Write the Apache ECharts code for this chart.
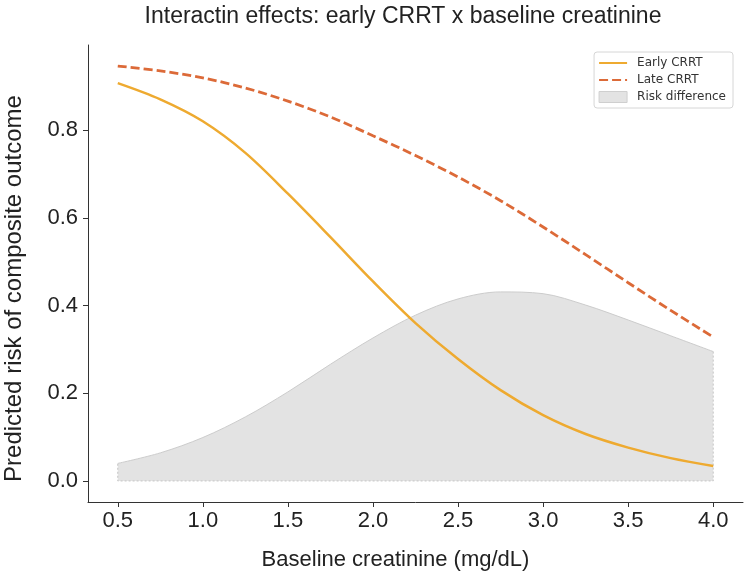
<!DOCTYPE html>
<html>
<head>
<meta charset="utf-8">
<script src="https://cdn.jsdelivr.net/npm/echarts@6/dist/echarts.min.js"></script>
<style>
  html, body { margin: 0; padding: 0; background: #fff; }
  #chart { width: 745px; height: 577px; }
</style>
</head>
<body>
<div id="chart"></div>
<script>
  // values
  const creatinine = [0.5, 0.75, 1.0, 1.25, 1.5, 1.75, 2.0, 2.25, 2.5, 2.75, 3.0, 3.25, 3.5, 3.75, 4.0];
  const earlyRisk = [0.907, 0.870, 0.820, 0.748, 0.655, 0.556, 0.455, 0.360, 0.278, 0.207, 0.150, 0.107, 0.076, 0.052, 0.034];
  const lateRisk = [0.946, 0.935, 0.919, 0.896, 0.866, 0.830, 0.787, 0.742, 0.693, 0.639, 0.579, 0.516, 0.452, 0.389, 0.328];
  const riskDiff = [0.040, 0.064, 0.099, 0.146, 0.203, 0.266, 0.326, 0.378, 0.415, 0.431, 0.427, 0.401, 0.367, 0.331, 0.295];
  const xTicks = [0.5, 1.0, 1.5, 2.0, 2.5, 3.0, 3.5, 4.0];
  const yTicks = [0.0, 0.2, 0.4, 0.6, 0.8];

  const pairs = (xs, ys) => xs.map((x, i) => [x, ys[i]]);
  const last = creatinine.length - 1;
  // dashed edges of the shaded band (sides and floor)
  const diffEdge = [
    [creatinine[last], riskDiff[last]],
    [creatinine[last], 0],
    [creatinine[0], 0],
    [creatinine[0], riskDiff[0]]
  ];

  const font = "'Liberation Sans Narrow', 'Liberation Sans', Arial, sans-serif";
  const curve = 0.33; // catmull-rom like smoothing
  const chart = echarts.init(document.getElementById('chart'));

  chart.setOption({
    animation: false,
    backgroundColor: '#fff',
    title: {
      text: 'Interactin effects: early CRRT x baseline creatinine',
      left: 398,
      top: 0,
      textAlign: 'center',
      textStyle: { fontFamily: font, fontSize: 23, fontWeight: 'normal', color: '#222' }
    },
    legend: {
      orient: 'vertical',
      right: 12,
      top: 52,
      padding: [5, 7, 5, 4],
      itemGap: 5,
      itemWidth: 28,
      itemHeight: 11,
      backgroundColor: '#fff',
      borderColor: '#d6d6d6',
      borderWidth: 1,
      borderRadius: 3,
      textStyle: { fontFamily: 'DejaVu Sans', fontSize: 12, color: '#333', padding: [0, 0, 0, 5] },
      data: [
        { name: 'Early CRRT', itemStyle: { opacity: 0 } },
        { name: 'Late CRRT', itemStyle: { opacity: 0 } },
        { name: 'Risk difference', icon: 'rect', itemStyle: { color: '#e3e3e3', borderColor: '#cfcfcf', borderWidth: 1 } }
      ]
    },
    grid: { left: 88, right: 2, top: 45, bottom: 75, outerBoundsMode: 'none' },
    xAxis: {
      type: 'value',
      min: 0.325,
      max: 4.175,
      name: 'Baseline creatinine (mg/dL)',
      nameLocation: 'middle',
      nameGap: 47,
      nameTextStyle: { fontFamily: font, fontSize: 22, color: '#222', padding: [0, 40, 0, 0] },
      splitLine: { show: false },
      axisLine: { onZero: false, lineStyle: { color: '#333', width: 1 } },
      axisTick: { customValues: xTicks, length: 5, lineStyle: { color: '#333' } },
      axisLabel: {
        customValues: xTicks,
        formatter: v => v.toFixed(1),
        fontFamily: font, fontSize: 22, color: '#222', margin: 8
      }
    },
    yAxis: {
      type: 'value',
      min: -0.048,
      max: 0.994,
      name: 'Predicted risk of composite outcome',
      nameLocation: 'middle',
      nameGap: 62,
      nameTextStyle: { fontFamily: font, fontSize: 24, color: '#222', padding: [0, 30, 0, 0] },
      splitLine: { show: false },
      axisLine: { show: true, onZero: false, lineStyle: { color: '#333', width: 1 } },
      axisTick: { show: true, customValues: yTicks, length: 5, lineStyle: { color: '#333' } },
      axisLabel: {
        customValues: yTicks,
        formatter: v => v.toFixed(1),
        fontFamily: font, fontSize: 22, color: '#222', margin: 10
      }
    },
    series: [
      {
        name: 'Risk difference',
        type: 'line',
        data: pairs(creatinine, riskDiff),
        smooth: curve,
        symbol: 'none',
        lineStyle: { color: '#cccccc', width: 1 },
        itemStyle: { color: '#e3e3e3' },
        areaStyle: { color: '#e3e3e3', opacity: 1, origin: 0 },
        z: 1
      },
      {
        name: 'diffEdge',
        type: 'line',
        data: diffEdge,
        symbol: 'none',
        silent: true,
        lineStyle: { color: '#c4c4c4', width: 1, type: [2, 2] },
        z: 2
      },
      {
        name: 'Early CRRT',
        type: 'line',
        data: pairs(creatinine, earlyRisk),
        smooth: curve,
        symbol: 'none',
        lineStyle: { color: '#eeaa30', width: 2.5 },
        itemStyle: { color: '#eeaa30' },
        z: 3
      },
      {
        name: 'Late CRRT',
        type: 'line',
        data: pairs(creatinine, lateRisk),
        smooth: curve,
        symbol: 'none',
        lineStyle: { color: '#dc6a38', width: 2.8, type: [9, 4] },
        itemStyle: { color: '#dc6a38' },
        z: 3
      }
    ]
  });
</script>
</body>
</html>
